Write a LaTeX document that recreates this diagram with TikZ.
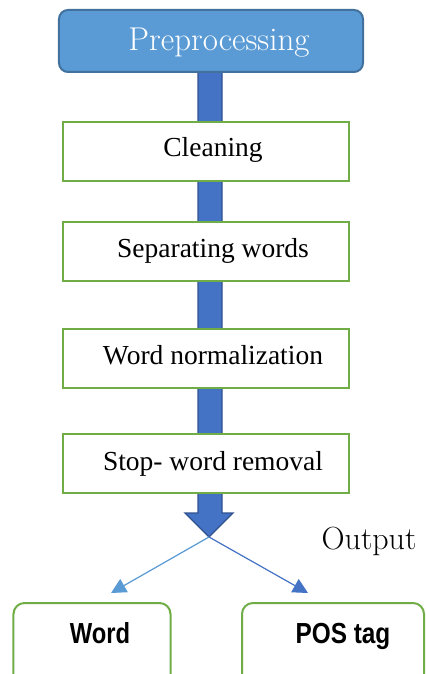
\documentclass[tikz,border=0pt]{standalone}
\usepackage{fontspec}
\setmainfont{Liberation Serif}
\newfontfamily\lmroman{Latin Modern Roman}
\newfontfamily\gothic{Liberation Sans}
\usetikzlibrary{arrows.meta}
\definecolor{prepfill}{HTML}{5B9BD5}
\definecolor{prepline}{HTML}{41719C}
\definecolor{shaftfill}{HTML}{4472C4}
\definecolor{shaftline}{HTML}{2F528F}
\definecolor{stepgreen}{HTML}{70AD47}
\begin{document}
\begin{tikzpicture}[x=1bp,y=-1bp,
  stepbox/.style={draw=stepgreen,line width=2bp,fill=white,minimum width=285bp,minimum height=59bp,inner sep=0pt},
  steptext/.style={font=\fontsize{27.5bp}{33bp}\selectfont,inner sep=0pt,anchor=base},
  outbox/.style={draw=stepgreen,line width=2bp,fill=white,rounded corners=11bp,inner sep=0pt},
  outtext/.style={font=\gothic\bfseries\fontsize{29bp}{34bp}\selectfont,inner sep=0pt,anchor=base},
  thin/.style={line width=1.2bp,-{Triangle[length=15bp,width=15bp]}}]
\useasboundingbox (0,0) rectangle (425,674);
\clip (0,0) rectangle (425,674);

% main block arrow running down behind the steps
\coordinate (split) at (209,537);
\filldraw[fill=shaftfill,draw=shaftline,line width=1.3bp,line join=miter]
  (198,70) -- (222,70) -- (222,513) -- (233,513) -- (split) -- (185,513) -- (198,513) -- cycle;

% header
\node[draw=prepline,fill=prepfill,line width=2bp,rounded corners=9bp,
      minimum width=304bp,minimum height=62bp,inner sep=0pt] (prep) at (211,41) {};
\node[font=\lmroman\fontsize{33bp}{39bp}\selectfont,text=white,inner sep=0pt,anchor=base] (preptext) at (219,51) {Preprocessing};

% processing steps
\node[stepbox] (clean) at (206,151.5) {};
\node[steptext] (cleant) at (213,156) {Cleaning};
\node[stepbox] (sep) at (206,251.5) {};
\node[steptext] (sept) at (213,257) {Separating words};
\node[stepbox] (norm) at (206,358.5) {};
\node[steptext] (normt) at (213,364) {Word normalization};
\node[stepbox] (stop) at (206,463.5) {};
\node[steptext] (stopt) at (213,470) {Stop- word removal};

% output label
\node[font=\lmroman\fontsize{32bp}{38bp}\selectfont,inner sep=0pt,anchor=base] (outlbl) at (369,549) {Output};

% output boxes (run past the lower edge)
\node[outbox,minimum width=157bp,minimum height=90bp] (word) at (92,648) {};
\node[outtext] (wordt) at (100,643) {\scalebox{0.82}[1]{Word}};
\node[outbox,minimum width=182bp,minimum height=90bp] (pos) at (333,648) {};
\node[outtext] (post) at (343,643) {\scalebox{0.84}[1]{POS tag}};

% split arrows
\coordinate (ltip) at (111,593);
\coordinate (rtip) at (308,593);
\draw[thin,draw=prepfill,fill=prepfill] (split) -- (ltip);
\draw[thin,draw=shaftfill,fill=shaftfill] (split) -- (rtip);
\end{tikzpicture}
\end{document}
